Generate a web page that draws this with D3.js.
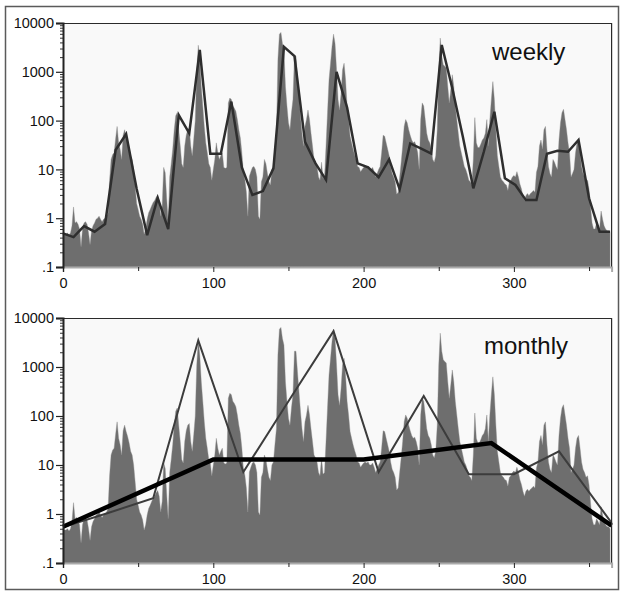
<!DOCTYPE html>
<html>
<head>
<meta charset="utf-8">
<script src="https://cdn.jsdelivr.net/npm/d3@7"></script>
<style>
  body { margin: 0; background: #fff; }
  svg { display: block; }
</style>
</head>
<body>
<svg id="chart"></svg>
<script>
// daily values, day 0 .. 364
const daily = [
  0.51, 0.47, 0.47, 0.5, 0.45, 0.5, 0.7, 1.7, 0.8, 0.85,
  0.75, 0.6, 0.26, 0.6, 0.8, 0.85, 0.75, 0.5, 0.29, 0.55,
  0.7, 0.8, 0.95, 1.0, 1.1, 0.95, 0.85, 0.95, 1.0, 1.1,
  1.3, 6, 16, 20, 22, 42, 76, 35, 26, 16,
  50, 65, 48, 38, 28, 19, 16, 10, 4.5, 2,
  1.5, 1.1, 0.95, 0.75, 0.47, 0.6, 0.95, 1.3, 1.5, 1.8,
  2.1, 2.3, 2.7, 3, 2.3, 1.1, 1.8, 11, 8.5, 2.5,
  0.8, 7, 13, 26, 65, 125, 145, 65, 30, 13,
  11, 30, 50, 65, 70, 30, 19, 42, 100, 1100,
  3500, 1750, 500, 200, 76, 35, 22, 13, 11, 6,
  10, 16, 35, 22, 16, 19, 22, 11, 10.5, 11,
  230, 290, 270, 200, 180, 155, 105, 65, 44, 22,
  8.5, 6.2, 3.4, 1.1, 7.2, 9, 11, 11.5, 10, 7,
  1.1, 0.95, 5.6, 7, 16, 13, 8.2, 5.6, 4.8, 10,
  11.5, 26, 55, 1800, 5900, 6400, 3800, 2800, 500, 200,
  90, 65, 145, 270, 2100, 2100, 800, 310, 125, 55,
  30, 76, 105, 165, 105, 55, 30, 16, 14, 11.5,
  7, 6, 14, 6.5, 7, 30, 145, 690, 1500, 3300,
  5900, 3800, 1100, 270, 165, 360, 1100, 1500, 690, 200,
  105, 48, 35, 26, 20, 16, 11.5, 11, 9, 10,
  11, 11.5, 11, 11.5, 10, 10, 11, 9, 7, 8.2,
  10, 11.5, 22, 50, 48, 35, 26, 19, 11.5, 8.2,
  7, 5.6, 3.1, 3.4, 7, 14, 30, 76, 105, 90,
  65, 50, 40, 35, 37, 30, 22, 10, 105, 230,
  200, 105, 55, 40, 35, 26, 16, 14, 19, 65,
  1100, 4900, 2100, 1400, 1300, 1200, 500, 230, 430, 870,
  500, 200, 105, 55, 30, 22, 16, 11.5, 10, 8,
  6, 5.6, 4.8, 16, 115, 35, 28, 28, 33, 40,
  44, 55, 105, 30, 105, 270, 630, 270, 65, 19,
  11.5, 7, 6, 5.6, 5, 4.8, 3.7, 5.6, 6, 7,
  7.5, 7, 9, 7, 5, 4, 2.9, 2.3, 2.9, 3.2,
  2.9, 3.2, 3.4, 3.7, 3.4, 8.7, 11.5, 30, 40, 26,
  65, 76, 26, 11.5, 8.2, 7, 16, 14, 11.5, 10,
  40, 90, 145, 170, 105, 65, 35, 22, 7, 8.2,
  10, 22, 35, 40, 22, 11.5, 8.2, 7, 5.6, 6,
  3.9, 1.7, 0.8, 0.6, 0.6, 0.8, 0.7, 0.6, 1.4, 0.95,
  0.7, 0.6, 0.55, 0.55, 0.5
];

const weekDays = [0, 7, 14, 21, 28, 35, 42, 49, 56, 63, 70, 77, 84, 91, 98, 105, 112, 119,
  126, 133, 140, 147, 154, 161, 168, 175, 182, 189, 196, 203, 210, 217, 224, 231, 238, 245,
  252, 259, 266, 273, 280, 287, 294, 301, 308, 315, 322, 329, 336, 343, 350, 357, 364];
const weekly = [0.49, 0.41, 0.69, 0.53, 0.76, 25, 53, 4, 0.45, 2.6, 0.6, 130, 55, 2800, 21, 21, 245, 11,
  3.0, 3.6, 10.5, 3250, 2100, 37, 13.3, 6.1, 1000, 187, 13.3, 11, 6.9, 16, 3.9, 34, 27, 21,
  3550, 460, 47, 4.1, 23, 152, 6.6, 4.8, 2.35, 2.35, 21, 24, 23, 40, 2.56, 0.53, 0.53];

const monthDays = [0, 30, 60, 90, 120, 150, 180, 210, 240, 270, 300, 330, 365];
const monthly = [0.54, 1.05, 2.1, 3500, 7.2, 200, 5400, 7.2, 257, 6.5, 6.5, 19, 0.66];

const seasonDays = [0, 100, 200, 285, 365];
const seasonal = [0.55, 13, 13, 28, 0.58];

const yTickValues = [10000, 1000, 100, 10, 1, 0.1];
const yTickLabels = ["10000", "1000", "100", "10", "1", ".1"];
const xTickValues = [0, 100, 200, 300];
const xMinorValues = [50, 150, 250, 350];

const width = 621, height = 592;
const left = 63, right = 611.6;

const svg = d3.select("#chart")
    .attr("width", width)
    .attr("height", height)
    .style("font-family", "'Liberation Sans', Arial, sans-serif");

svg.append("rect")
    .attr("x", 5.5).attr("y", 6.5)
    .attr("width", 613).attr("height", 583)
    .attr("fill", "#fff")
    .attr("stroke", "#5a5a5a")
    .attr("stroke-width", 1.5);

const x = d3.scaleLinear().domain([0, 365]).range([left, right]);

function panel(top, bottom, label, labelX, labelY, lines) {
    const y = d3.scaleLog().domain([0.1, 10000]).range([bottom, top]);
    const g = svg.append("g");

    g.append("rect")
        .attr("x", left).attr("y", top)
        .attr("width", right - left).attr("height", bottom - top)
        .attr("fill", "#f9f9f9");

    const area = d3.area()
        .x((d, i) => x(i))
        .y0(bottom)
        .y1(d => y(d));

    g.append("path")
        .datum(daily)
        .attr("d", area)
        .attr("fill", "#6e6e6e")
        .attr("stroke", "#8a8a8a")
        .attr("stroke-width", 0.4);

    lines.forEach(function (l) {
        const line = d3.line()
            .x((d, i) => x(l.days[i]))
            .y(d => y(d));
        g.append("path")
            .datum(l.values)
            .attr("d", line)
            .attr("fill", "none")
            .attr("stroke", l.color)
            .attr("stroke-width", l.width)
            .attr("stroke-linejoin", "miter");
    });

    // frame top and right
    g.append("path")
        .attr("d", `M${left},${top + 0.5}H${right}V${bottom}`)
        .attr("fill", "none")
        .attr("stroke", "#2a2a2a")
        .attr("stroke-width", 1.2);

    // x axis
    const xAxis = g.append("g")
        .attr("transform", `translate(0,${bottom})`)
        .call(d3.axisBottom(x).tickValues(xTickValues).tickSize(5).tickPadding(6).tickFormat(d3.format("d")));
    xAxis.select(".domain").attr("stroke", "#aaaaaa").attr("stroke-width", 2);
    xAxis.selectAll(".tick line").attr("stroke", "#222");
    xAxis.selectAll("text").attr("font-size", 14.5).attr("fill", "#111");

    const xMinor = g.append("g")
        .attr("transform", `translate(0,${bottom})`)
        .call(d3.axisBottom(x).tickValues(xMinorValues).tickSize(4).tickFormat(""));
    xMinor.select(".domain").remove();
    xMinor.selectAll(".tick line").attr("stroke", "#222");

    // y axis, minor ticks first
    const minor = y.ticks().filter(v => !yTickValues.includes(v));
    const yMinor = g.append("g")
        .attr("transform", `translate(${left},0)`)
        .call(d3.axisLeft(y).tickValues(minor).tickSize(3).tickFormat(""));
    yMinor.select(".domain").remove();
    yMinor.selectAll(".tick line").attr("stroke", "#333");

    const yAxis = g.append("g")
        .attr("transform", `translate(${left},0)`)
        .call(d3.axisLeft(y).tickValues(yTickValues).tickSize(7).tickPadding(2)
            .tickFormat((d, i) => yTickLabels[i]));
    yAxis.select(".domain").attr("stroke", "#222").attr("stroke-width", 2);
    yAxis.selectAll(".tick line").attr("stroke", "#222").attr("stroke-width", 1.2);
    yAxis.selectAll("text").attr("font-size", 14.5).attr("fill", "#111");

    g.append("text")
        .attr("x", labelX).attr("y", labelY)
        .attr("font-size", 24)
        .attr("fill", "#111")
        .text(label);
}

panel(23, 267, "weekly", 492, 60, [
    { days: weekDays, values: weekly, color: "#2e2e2e", width: 2.5 }
]);

panel(318, 563, "monthly", 484, 354, [
    { days: monthDays, values: monthly, color: "#3c3c3c", width: 2 },
    { days: seasonDays, values: seasonal, color: "#000", width: 4.5 }
]);
</script>
</body>
</html>
